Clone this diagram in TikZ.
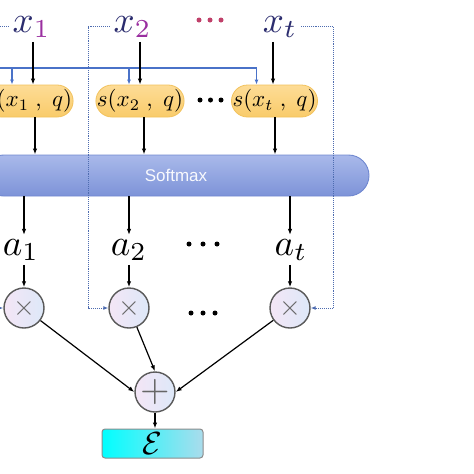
\documentclass[tikz,border=0pt]{standalone}
\usepackage{fontspec}
\newfontfamily\smfont{Liberation Sans}
\usetikzlibrary{arrows.meta,calc}
\definecolor{navy}{HTML}{2B2C6E}
\definecolor{subpurple}{HTML}{9A2FA0}
\definecolor{crimson}{HTML}{C0406A}
\definecolor{qblue}{HTML}{4A72C8}
\definecolor{dotblue}{HTML}{4E6CB0}
\definecolor{orangetop}{HTML}{FDDC96}
\definecolor{orangebot}{HTML}{F9CB6A}
\definecolor{orangeedge}{HTML}{F2C25C}
\definecolor{smtop}{HTML}{A9B9EA}
\definecolor{smbot}{HTML}{7D93D8}
\definecolor{smedge}{HTML}{7088D0}
\definecolor{circL}{HTML}{F4E6F6}
\definecolor{circR}{HTML}{DDE8F8}
\definecolor{eL}{HTML}{00FFFF}
\definecolor{eR}{HTML}{AADCEC}
\begin{document}
\begin{tikzpicture}[x=1pt,y=-1pt,
  arr/.style={-{Latex[length=6pt,width=4.5pt]}, line width=1.2pt, black},
  barr/.style={-{Latex[length=5pt,width=4pt]}, line width=1.2pt, qblue},
  dotl/.style={line width=1pt, dotblue, dash pattern=on 0.9pt off 1pt},
  dotarr/.style={dotl, -{Latex[length=5pt,width=4pt]}},
  xlab/.style={text=navy, inner sep=4pt, anchor=base},
  alab/.style={text=black, inner sep=4pt, anchor=base},
  score/.style={draw=orangeedge, line width=0.8pt, top color=orangetop, bottom color=orangebot,
    rounded corners=16pt, minimum width=86pt, minimum height=32pt, inner sep=1pt},
  opcirc/.style={circle, draw=black!65, line width=1.4pt, left color=circL, right color=circR,
    minimum size=40pt, inner sep=0pt, text=black!60},
  dotsym/.style={circle, fill, inner sep=0pt, minimum size=5pt}
]
\useasboundingbox (0,0) rectangle (474,474);
\clip (0,0) rectangle (474,474);

% inputs
\node[xlab] (x1) at (31.5,32) {\scalebox{3.7}{$x_{\textcolor{subpurple}{1}}$}};
\node[xlab] (x2) at (132.5,32) {\scalebox{3.7}{$x_{\textcolor{subpurple}{2}}$}};
\node[xlab] (xt) at (280,32) {\scalebox{3.7}{$x_{t}$}};
\node[dotsym, crimson] (td1) at (199,20) {};
\node[dotsym, crimson] (td2) at (210,20) {};
\node[dotsym, crimson] (td3) at (221,20) {};

% score boxes
\node[score] (s1) at (29,101) {\scalebox{2.3}{$s(x_{1}\;,\;q)$}};
\node[score] (s2) at (140,101) {\scalebox{2.3}{$s(x_{2}\;,\;q)$}};
\node[score] (st) at (274.5,101) {\scalebox{2.3}{$s(x_{t}\;,\;q)$}};
\node[dotsym] (bd1) at (200,100) {};
\node[dotsym] (bd2) at (210.5,100) {};
\node[dotsym] (bd3) at (221,100) {};

% query line
\coordinate (q) at (-5,68);
\draw[barr] (q) -| ([xshift=-18pt]st.north);
\draw[barr] ([xshift=-17pt]s1.north |- q) -- ([xshift=-17pt]s1.north);
\draw[barr] ([xshift=-11pt]s2.north |- q) -- ([xshift=-11pt]s2.north);

% input arrows
\draw[arr] ([xshift=1.5pt]x1.south) -- ([xshift=1.5pt]x1.south |- s1.north);
\draw[arr] ([xshift=7.5pt]x2.south) -- ([xshift=7.5pt]x2.south |- s2.north);
\draw[arr] ([xshift=-7pt]xt.south) -- ([xshift=-7pt]xt.south |- st.north);

% softmax bar
\node[draw=smedge, line width=0.9pt, top color=smtop, bottom color=smbot,
  rounded corners=20.5pt, minimum width=386pt, minimum height=41pt,
  font=\smfont\fontsize{17}{17}\selectfont, text=white!92!smtop] (sm) at (176,175.5) {Softmax};

\draw[arr] ([xshift=6pt]s1.south) -- ([xshift=6pt]s1.south |- sm.north);
\draw[arr] ([xshift=4pt]s2.south) -- ([xshift=4pt]s2.south |- sm.north);
\draw[arr] ([xshift=0.5pt]st.south) -- ([xshift=0.5pt]st.south |- sm.north);

% attention weights
\node[alab] (a1) at (21,255) {\scalebox{3.7}{$a_{1}$}};
\node[alab] (a2) at (129,255) {\scalebox{3.7}{$a_{2}$}};
\node[alab] (at) at (291,255) {\scalebox{3.7}{$a_{t}$}};
\node[dotsym] (ad1) at (189,244) {};
\node[dotsym] (ad2) at (203,244) {};
\node[dotsym] (ad3) at (217,244) {};

% multipliers
\node[opcirc] (m1) at (24,308) {\scalebox{2.8}{$\times$}};
\node[opcirc] (m2) at (129,308) {\scalebox{2.8}{$\times$}};
\node[opcirc] (mt) at (290,308) {\scalebox{2.8}{$\times$}};
\node[dotsym] (md1) at (191,313) {};
\node[dotsym] (md2) at (203,313) {};
\node[dotsym] (md3) at (215,313) {};

\draw[arr] (m1 |- sm.south) -- (m1 |- a1.north);
\draw[arr] (m2 |- sm.south) -- (m2 |- a2.north);
\draw[arr] (mt |- sm.south) -- (mt |- at.north);
\draw[arr] (m1 |- a1.south) -- (m1.north);
\draw[arr] (m2 |- a2.south) -- (m2.north);
\draw[arr] (mt |- at.south) -- (mt.north);

% sum and output
\node[opcirc] (plus) at (155,392) {\scalebox{3.8}{$+$}};
\node[draw=black!45, line width=1pt, rounded corners=3pt, left color=eL, right color=eR,
  minimum width=101pt, minimum height=29pt, inner sep=0pt] (E) at (152.5,443.5) {\scalebox{3.2}{$\mathcal{E}$}};

\draw[arr] (m1) -- (plus.west);
\draw[arr] (m2) -- (plus.north);
\draw[arr] (mt) -- (plus.east);
\draw[arr] (plus.south) -- (plus.south |- E.north);

% dotted skip connections
\coordinate (c1) at (-20,308);
\coordinate (c2) at (88,308);
\coordinate (ct) at (333,308);
\draw[dotarr] (x1.west) -| (c1) -- (m1.west);
\draw[dotarr] (x2.west) -| (c2) -- (m2.west);
\draw[dotarr] (xt.east) -| (ct) -- (mt.east);
\end{tikzpicture}
\end{document}
